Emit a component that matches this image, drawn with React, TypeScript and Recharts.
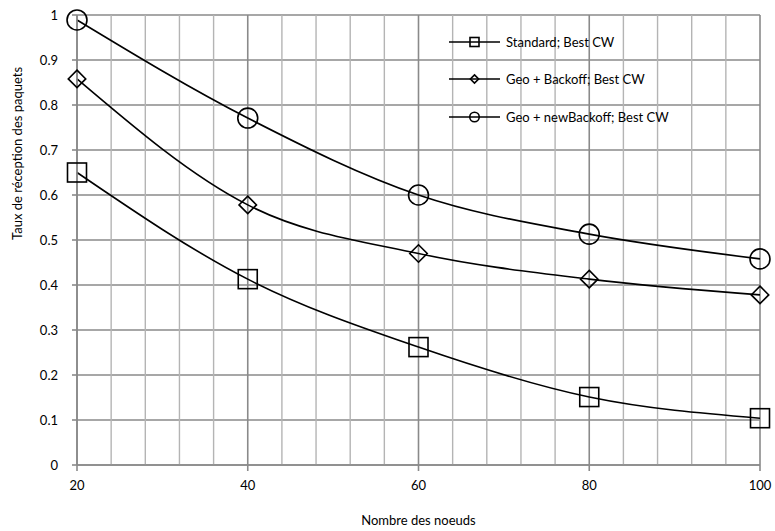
import React from "react";
import {
  CartesianGrid,
  Line,
  LineChart,
  ReferenceLine,
  XAxis,
  YAxis,
} from "recharts";

const NODES = [20, 40, 60, 80, 100];
const STANDARD = [0.65, 0.413, 0.262, 0.151, 0.104];
const GEO_BACKOFF = [0.858, 0.578, 0.47, 0.413, 0.378];
const GEO_NEW_BACKOFF = [0.989, 0.771, 0.6, 0.513, 0.458];
const Y_TICKS = [0, 0.1, 0.2, 0.3, 0.4, 0.5, 0.6, 0.7, 0.8, 0.9, 1];
const MINOR_X = [24, 28, 32, 36, 44, 48, 52, 56, 64, 68, 72, 76, 84, 88, 92, 96];

const SERIES = [
  { key: "standard", name: "Standard; Best CW", marker: "square" },
  { key: "backoff", name: "Geo + Backoff; Best CW", marker: "diamond" },
  { key: "newBackoff", name: "Geo + newBackoff; Best CW", marker: "circle" },
];

const FONT = "Lato, 'Noto Sans', sans-serif";
const MAJOR_GRID = "#8a8a8a";
const MINOR_GRID = "#b4b4b4";

const data = NODES.map((n, i) => ({
  n,
  standard: STANDARD[i],
  backoff: GEO_BACKOFF[i],
  newBackoff: GEO_NEW_BACKOFF[i],
}));

function marker(kind: string, cx: number, cy: number, size: number, key?: any) {
  const sw = 1.6;
  if (kind === "square") {
    return (
      <rect key={key} x={cx - size} y={cy - size} width={size * 2} height={size * 2}
        fill="none" stroke="#000" strokeWidth={sw} />
    );
  }
  if (kind === "diamond") {
    const d = size * 0.92;
    return (
      <path key={key} d={`M${cx},${cy - d}L${cx + d},${cy}L${cx},${cy + d}L${cx - d},${cy}Z`}
        fill="none" stroke="#000" strokeWidth={sw} />
    );
  }
  return <circle key={key} cx={cx} cy={cy} r={size * 1.05} fill="none" stroke="#000" strokeWidth={sw} />;
}

function dotFor(kind: string) {
  return (props: any) => marker(kind, props.cx, props.cy, 9.5, props.index);
}

function LegendBox() {
  return (
    <div style={{ position: "absolute", left: 449, top: 23, fontFamily: FONT, fontSize: 13, color: "#000" }}>
      {SERIES.map((s) => (
        <div key={s.key} style={{ display: "flex", alignItems: "center", height: 37.5 }}>
          <svg width={57} height={16}>
            <line x1={0} y1={8} x2={51} y2={8} stroke="#000" strokeWidth={1.6} />
            {marker(s.marker, 25.5, 8, 4.5)}
          </svg>
          <span>{s.name}</span>
        </div>
      ))}
    </div>
  );
}

export default function App() {
  return (
    <div style={{ position: "absolute", left: 0, top: 0, width: 775, height: 531, background: "#fff" }}>
      <LineChart width={775} height={531} data={data}
        margin={{ top: 15, right: 15, left: 0, bottom: 0 }}>
        {MINOR_X.map((v) => (
          <ReferenceLine key={"m" + v} x={v} stroke={MINOR_GRID} strokeWidth={1.4} />
        ))}
        <CartesianGrid stroke={MAJOR_GRID} strokeWidth={1.6} />
        <XAxis dataKey="n" type="number" domain={[20, 100]} ticks={NODES}
          height={66} tickSize={6} tickMargin={10}
          stroke={MAJOR_GRID} strokeWidth={1.6}
          tick={{ fill: "#000", fontSize: 13, fontFamily: FONT }}
          label={{ value: "Nombre des noeuds", position: "insideBottom", offset: 6,
            fill: "#000", fontSize: 13, fontFamily: FONT }} />
        <YAxis type="number" domain={[0, 1]} ticks={Y_TICKS} width={77}
          tickSize={5} tickMargin={14}
          stroke={MAJOR_GRID} strokeWidth={1.6}
          tick={{ fill: "#000", fontSize: 13, fontFamily: FONT }}
          label={{ value: "Taux de réception des paquets", angle: -90, position: "insideLeft",
            offset: 0, dx: 17, fill: "#000", fontSize: 13, fontFamily: FONT }} />
        {SERIES.map((s) => (
          <Line key={s.key} dataKey={s.key} name={s.name} type="monotone"
            stroke="#000" strokeWidth={1.6} dot={dotFor(s.marker)}
            activeDot={false} isAnimationActive={false} />
        ))}
      </LineChart>
      <LegendBox />
    </div>
  );
}
